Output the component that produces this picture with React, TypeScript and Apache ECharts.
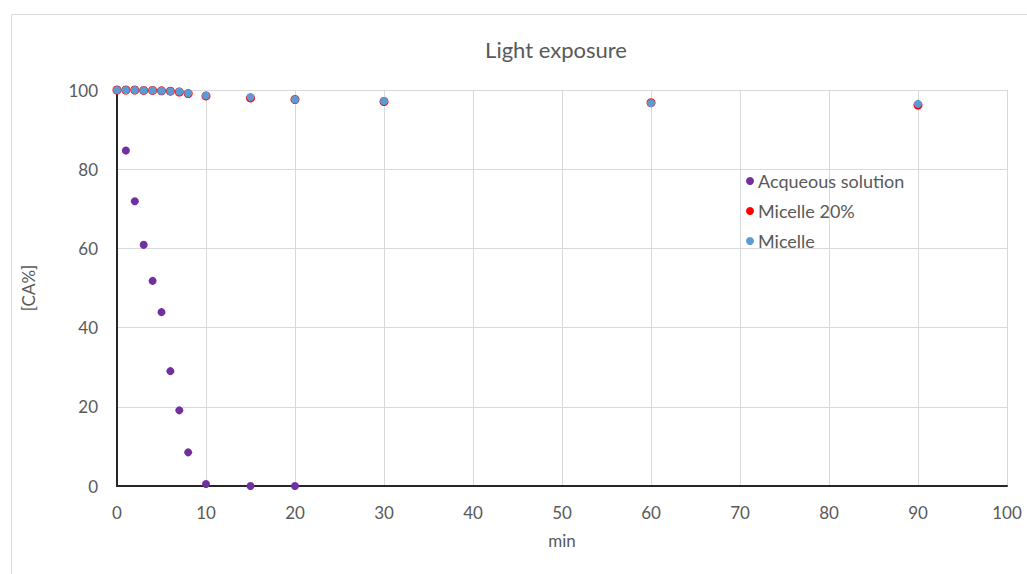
import React, { useEffect, useRef } from "react";
import * as echarts from "echarts";

// Exposure time in minutes and remaining CA percentage for each formulation
const aqueousTime = [0, 1, 2, 3, 4, 5, 6, 7, 8, 10, 15, 20];
const aqueousCA = [100, 84.7, 71.9, 60.9, 51.8, 43.9, 29.0, 19.1, 8.5, 0.5, 0.0, 0.0];

const micelle20Time = [0, 1, 2, 3, 4, 5, 6, 7, 8, 10, 15, 20, 30, 60, 90];
const micelle20CA = [100, 100, 100, 99.9, 99.9, 99.8, 99.7, 99.5, 99.1, 98.5, 98.0, 97.6, 97.1, 96.8, 96.2];

const micelleTime = [0, 1, 2, 3, 4, 5, 6, 7, 8, 10, 15, 20, 30, 60, 90];
const micelleCA = [100, 100, 100, 99.9, 99.9, 99.8, 99.7, 99.6, 99.2, 98.6, 98.2, 97.6, 97.2, 96.7, 96.5];

const seriesNames = ["Acqueous solution", "Micelle 20%", "Micelle"];
const seriesColors = ["#7030A0", "#FF0000", "#5B9BD5"];
const markerSizes = [8, 9, 8];

const zip = (xs: number[], ys: number[]) => xs.map((x, i) => [x, ys[i]]);

const FONT = "Lato, 'Noto Sans', sans-serif";
const TEXT = "#595959";

export default function App() {
  const ref = useRef<HTMLDivElement>(null);

  useEffect(() => {
    if (!ref.current) return;
    const chart = echarts.init(ref.current, null, { renderer: "svg" });
    const datasets = [
      zip(aqueousTime, aqueousCA),
      zip(micelle20Time, micelle20CA),
      zip(micelleTime, micelleCA),
    ];
    chart.setOption({
      animation: false,
      backgroundColor: "#ffffff",
      textStyle: { fontFamily: FONT },
      graphic: [
        {
          type: "rect",
          left: 9,
          top: 12,
          shape: { width: 1100, height: 600 },
          style: { fill: "none", stroke: "#d9d9d9", lineWidth: 1 },
          silent: true,
        },
      ],
      title: {
        text: "Light exposure",
        left: 551,
        top: 33,
        textAlign: "center",
        textStyle: { fontFamily: FONT, fontSize: 22, fontWeight: "normal", color: TEXT },
      },
      legend: {
        orient: "vertical",
        left: 741,
        top: 167,
        itemGap: 12,
        itemWidth: 8,
        itemHeight: 8,
        icon: "circle",
        data: seriesNames,
        textStyle: { fontFamily: FONT, fontSize: 18, color: TEXT, padding: [0, 0, 0, -1] },
      },
      grid: { left: 117, right: 20, top: 90, bottom: 88 },
      xAxis: {
        type: "value",
        min: 0,
        max: 100,
        interval: 10,
        name: "min",
        nameLocation: "middle",
        nameGap: 46,
        nameTextStyle: { fontFamily: FONT, fontSize: 17, color: TEXT },
        axisLine: { show: true, lineStyle: { color: "#262626", width: 2 } },
        axisTick: { show: false },
        axisLabel: { fontFamily: FONT, fontSize: 17, color: TEXT, margin: 18 },
        splitLine: { show: true, lineStyle: { color: "#d9d9d9", width: 1 } },
      },
      yAxis: {
        type: "value",
        min: 0,
        max: 100,
        interval: 20,
        name: "[CA%]",
        nameLocation: "middle",
        nameGap: 80,
        nameRotate: 90,
        nameTextStyle: { fontFamily: FONT, fontSize: 17, color: TEXT },
        axisLine: { show: true, lineStyle: { color: "#262626", width: 2 } },
        axisTick: { show: false },
        axisLabel: { fontFamily: FONT, fontSize: 17, color: TEXT, margin: 19 },
        splitLine: { show: true, lineStyle: { color: "#d9d9d9", width: 1 } },
      },
      series: seriesNames.map((name, i) => ({
        name,
        type: "scatter",
        data: datasets[i],
        symbol: "circle",
        symbolSize: markerSizes[i],
        itemStyle: { color: seriesColors[i], opacity: 1 },
        z: 2 + i,
      })),
    });
    return () => chart.dispose();
  }, []);

  return (
    <div
      ref={ref}
      style={{ position: "absolute", left: 0, top: 0, width: 1027, height: 574 }}
    />
  );
}
